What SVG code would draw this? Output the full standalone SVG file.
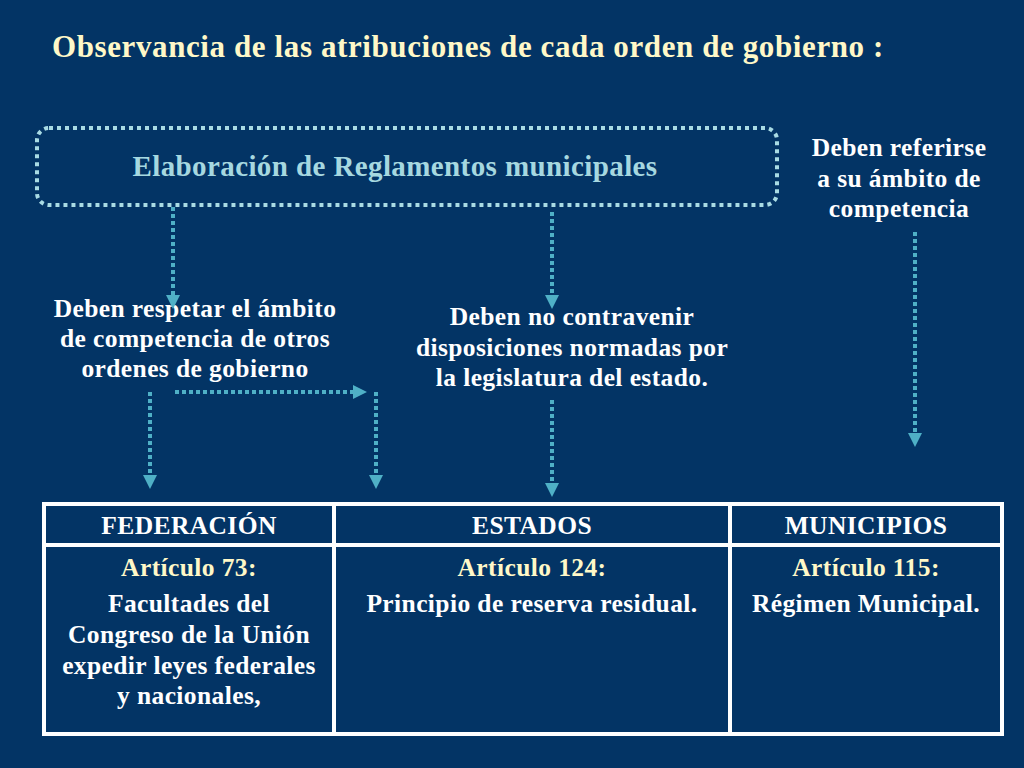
<svg xmlns="http://www.w3.org/2000/svg" width="1024" height="768" viewBox="0 0 1024 768">
<defs>
<style>
text{font-family:"Liberation Serif","DejaVu Serif",serif;font-weight:bold;text-anchor:middle}
.w{fill:#ffffff;font-size:25.5px;letter-spacing:0.4px}
.y{fill:#fff8c8;font-size:25.5px;letter-spacing:0.4px}
.c{stroke:#4fb0c6;stroke-width:4;stroke-dasharray:4 3;fill:none}
</style>
<marker id="a" viewBox="0 0 10 10" refX="5" refY="5" markerWidth="3.5" markerHeight="3.5" orient="auto"><path d="M0,0L10,5L0,10z" fill="#4fb0c6"/></marker>
</defs>
<rect width="1024" height="768" fill="#033465"/>
<text x="468" y="57" style="fill:#fff8c8;font-size:31px;letter-spacing:0.6px">Observancia de las atribuciones de cada orden de gobierno :</text>
<g id="box"><rect x="37" y="128" width="740" height="77" rx="12" fill="none" stroke="#a9dbe4" stroke-width="4" stroke-dasharray="4 4"/>
<text x="395" y="176" style="fill:#a6d8e0;font-size:29px;letter-spacing:0.4px">Elaboración de Reglamentos municipales</text></g>
<g id="n1"><text class="w" x="195" y="317">Deben respetar el ámbito</text><text class="w" x="195" y="347">de competencia de otros</text><text class="w" x="195" y="377">ordenes de gobierno</text></g>
<g id="n2"><text class="w" x="572" y="325">Deben no contravenir</text><text class="w" x="572" y="356">disposiciones normadas  por</text><text class="w" x="572" y="386">la legislatura del estado.</text></g>
<g id="n3"><text class="w" x="899" y="156">Deben referirse</text><text class="w" x="899" y="187">a su ámbito de</text><text class="w" x="899" y="217">competencia</text></g>
<g id="conn">
<path class="c" d="M173,207V302" marker-end="url(#a)"/>
<path class="c" d="M552,212V302" marker-end="url(#a)"/>
<path class="c" d="M915,232V440" marker-end="url(#a)"/>
<path class="c" d="M150,392V482" marker-end="url(#a)"/>
<path class="c" d="M175,392H360" marker-end="url(#a)"/>
<path class="c" d="M376,392V482" marker-end="url(#a)"/>
<path class="c" d="M552,400V490" marker-end="url(#a)"/>
</g>
<g id="table" fill="none" stroke="#ffffff" stroke-width="4">
<rect x="44" y="504" width="958" height="230"/>
<path d="M44,545H1002M334,504V734M730,504V734"/>
</g>
<g id="cells">
<text class="w" x="189" y="534">FEDERACIÓN</text><text class="w" x="532" y="534">ESTADOS</text><text class="w" x="866" y="534">MUNICIPIOS</text>
<text class="y" x="189" y="576">Artículo 73:</text><text class="y" x="532" y="576">Artículo 124:</text><text class="y" x="866" y="576">Artículo 115:</text>
<text class="w" x="189" y="612">Facultades del</text><text class="w" x="189" y="643">Congreso de la Unión</text><text class="w" x="189" y="674">expedir leyes federales</text><text class="w" x="189" y="704">y nacionales,</text>
<text class="w" x="532" y="612">Principio de reserva  residual.</text>
<text class="w" x="866" y="612">Régimen Municipal.</text>
</g>
</svg>
